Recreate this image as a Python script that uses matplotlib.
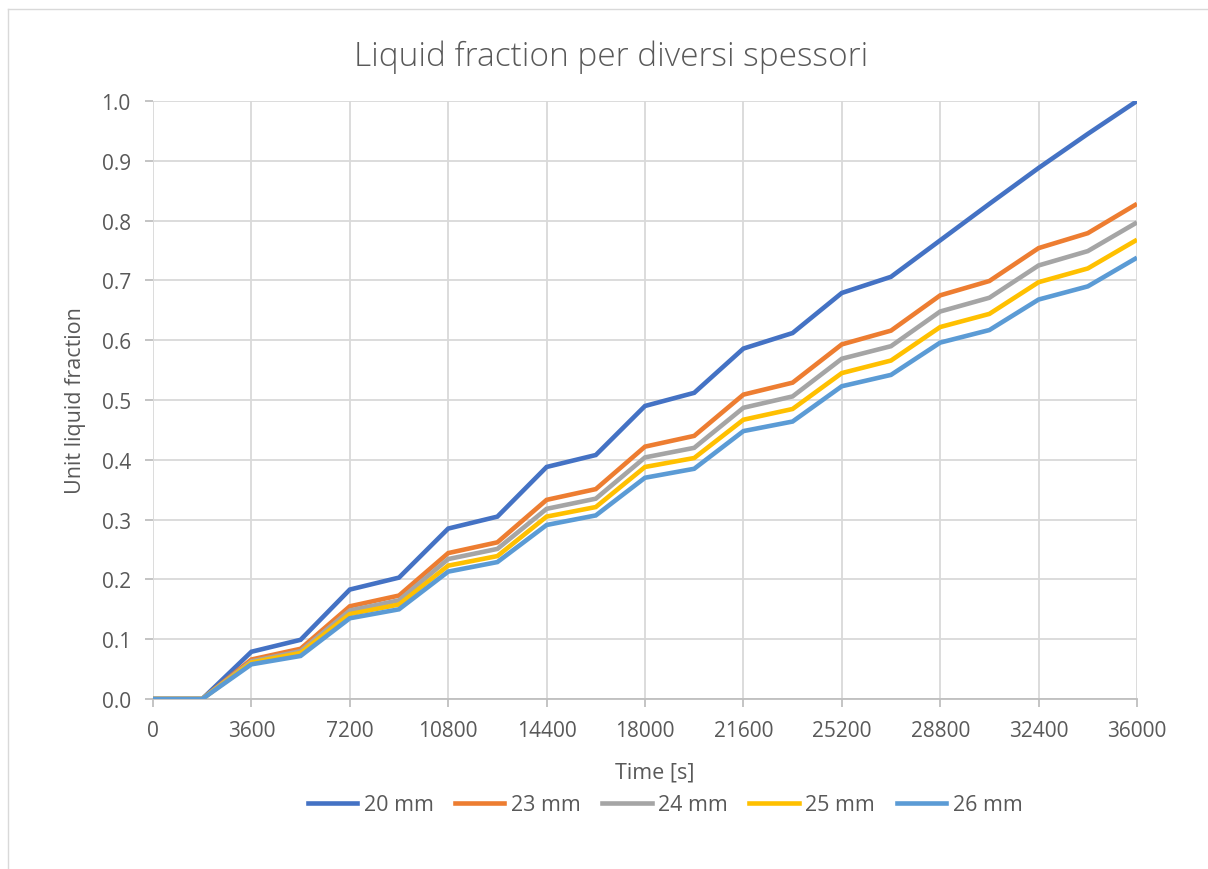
import numpy as np
import matplotlib.pyplot as plt
from matplotlib.lines import Line2D

plt.rcParams['font.family'] = ['Open Sans', 'DejaVu Sans']

# dati (un punto ogni 1800 s)
time_s = np.arange(0, 36001, 1800)
lf_20 = [0, 0, 0.079, 0.099, 0.183, 0.203, 0.285, 0.305, 0.388, 0.408, 0.490,
         0.512, 0.586, 0.612, 0.679, 0.706, 0.767, 0.828, 0.888, 0.945, 1.0]
lf_23 = [0, 0, 0.066, 0.084, 0.155, 0.173, 0.244, 0.262, 0.333, 0.351, 0.422,
         0.440, 0.509, 0.529, 0.593, 0.616, 0.675, 0.699, 0.754, 0.779, 0.828]
lf_24 = [0, 0, 0.063, 0.080, 0.148, 0.165, 0.234, 0.251, 0.318, 0.335, 0.404,
         0.420, 0.487, 0.506, 0.569, 0.590, 0.648, 0.671, 0.725, 0.749, 0.797]
lf_25 = [0, 0, 0.061, 0.077, 0.142, 0.158, 0.223, 0.239, 0.305, 0.321, 0.388,
         0.403, 0.467, 0.485, 0.545, 0.566, 0.622, 0.644, 0.697, 0.720, 0.768]
lf_26 = [0, 0, 0.058, 0.072, 0.135, 0.150, 0.213, 0.229, 0.291, 0.307, 0.370,
         0.385, 0.448, 0.464, 0.523, 0.542, 0.596, 0.617, 0.668, 0.690, 0.738]
labels = ['20 mm', '23 mm', '24 mm', '25 mm', '26 mm']
colori = ['#4472C4', '#ED7D31', '#A5A5A5', '#FFC000', '#5B9BD5']
x_ticks = np.arange(0, 36001, 3600)
y_ticks = np.arange(0, 1.01, 0.1)

testo = '#595959'
griglia = '#D9D9D9'

fig = plt.figure(figsize=(12.08, 8.70), dpi=100)
ax = fig.add_axes([153 / 1208, 170 / 870, 984 / 1208, 598 / 870])

for serie, lab, col in zip([lf_20, lf_23, lf_24, lf_25, lf_26], labels, colori):
    ax.plot(time_s, serie, color=col, lw=3.3, label=lab, solid_joinstyle='miter',
            solid_capstyle='butt', zorder=3)

ax.set_xlim(0, 36000)
ax.set_ylim(0, 1.0)
ax.set_xticks(x_ticks)
ax.set_yticks(y_ticks)
ax.set_yticklabels([f'{v:.1f}' for v in y_ticks])
ax.grid(True, color=griglia, lw=1.3)
ax.set_axisbelow(True)
for s in ['top', 'right', 'left']:
    ax.spines[s].set_visible(False)
ax.spines['bottom'].set_color('#BFBFBF')
ax.spines['bottom'].set_linewidth(1.3)
ax.tick_params(axis='both', colors='#BFBFBF', labelcolor=testo, labelsize=15,
               length=6, width=1.3)
ax.tick_params(axis='x', pad=9)
ax.tick_params(axis='y', pad=10)

ax.set_xlabel('Time [s]', fontsize=15.5, color=testo)
ax.xaxis.set_label_coords((655 - 153) / 984, -(763 - 700) / 598)
ax.set_ylabel('Unit liquid fraction', fontsize=15.5, color=testo)
ax.yaxis.set_label_coords(-(153 - 86) / 984, 0.5)
fig.text(611 / 1208, 1 - 57 / 870, 'Liquid fraction per diversi spessori',
         fontsize=24, color=testo, ha='center', va='center', fontweight='light')

handles = [Line2D([], [], color=c, lw=3.3) for c in colori]
fig.legend(handles, labels, loc='center', bbox_to_anchor=(665 / 1208, 1 - 806 / 870),
           ncol=5, frameon=False, fontsize=15.5, labelcolor=testo,
           handlelength=2.3, handletextpad=0.3, columnspacing=1.0)

# cornice del riquadro (visibile solo a sinistra e in alto)
fig.add_artist(Line2D([8 / 1208, 8 / 1208], [0, 1 - 10 / 870], color='#D9D9D9', lw=1))
fig.add_artist(Line2D([8 / 1208, 1], [1 - 10 / 870, 1 - 10 / 870], color='#D9D9D9', lw=1))

fig.savefig('out.png', dpi=100, facecolor='white')
